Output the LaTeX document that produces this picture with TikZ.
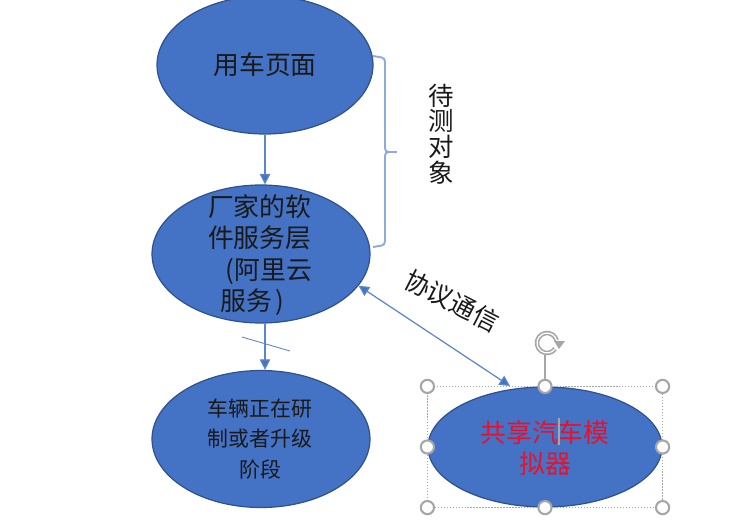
\documentclass[tikz,border=0pt]{standalone}
\usepackage{fontspec}
\setmainfont{Noto Sans CJK SC}
\usetikzlibrary{arrows.meta, shapes.geometric}
\definecolor{fillblue}{HTML}{4472C4}
\definecolor{edgeblue}{HTML}{2F528F}
\definecolor{lineblue}{HTML}{5B86C9}
\definecolor{bracelight}{HTML}{8FAADC}
\definecolor{handlegray}{HTML}{A6A6A6}
\definecolor{simred}{HTML}{E8112D}
\tikzset{
	layer/.style={draw=edgeblue, fill=fillblue, ellipse, inner sep=0pt, line width=0.7pt},
	layertext/.style={font=\fontsize{14.7}{17.9}\selectfont, text=black!90, inner sep=0pt},
	link/.style={draw=lineblue, line width=0.7pt, -{Triangle[length=6pt, width=6pt, fill=fillblue]}},
	handle/.style={draw=handlegray, fill=white, circle, line width=1.2pt, minimum size=7.5pt, inner sep=0pt},
	label/.style={font=\fontsize{14.5}{14.7}\selectfont, text=black!90, inner sep=0pt, align=center}
}

\begin{document}
\begin{tikzpicture}[x=0.02cm, y=-0.02cm]
		\clip (0,0) rectangle (750,524);
		\fill[white] (0,0) rectangle (750,524);
		
		\node[layer, minimum width=4.32cm, minimum height=2.76cm] (page) at (265,65) {};
		\node[layer, minimum width=4.36cm, minimum height=2.76cm] (cloud) at (261,254) {};
		\node[layer, minimum width=4.36cm, minimum height=2.74cm] (vehicle) at (261,439) {};
		\node[layer, minimum width=4.68cm, minimum height=2.40cm] (sim) at (545,447) {};
		
		\node[layertext] (pagetext) at (265,65) {用车页面};
		\node[layertext, align=left] (cloudtext) at (260,255) {厂家的软\\件服务层\\\hspace{10pt}(阿里云\\\hspace{7pt}服务\hspace{2pt})};
		\node[layertext, align=center, font=\fontsize{11.9}{17.6}\selectfont] (vehicletext) at (260,439) {车辆正在研\\制或者升级\\阶段};
		\node[layertext, align=center, text=simred] (simtext) at (545,448) {共享汽车模\\拟器};
		
		% selection frame
		\coordinate (nw) at (sim.north -| sim.west);
		\coordinate (ne) at (sim.north -| sim.east);
		\coordinate (sw) at (sim.south -| sim.west);
		\coordinate (se) at (sim.south -| sim.east);
		\draw[handlegray, densely dotted, line width=0.7pt] (nw) rectangle (se);
		\draw[handlegray, line width=1pt] (sim.north) -- (545,355);
		\draw[handlegray, line width=0.7pt] (559,418) -- (559,445);
		\node[handle] (h1) at (nw) {};
		\node[handle] (h2) at (sim.north) {};
		\node[handle] (h3) at (ne) {};
		\node[handle] (h4) at (sim.west) {};
		\node[handle] (h5) at (sim.east) {};
		\node[handle] (h6) at (sw) {};
		\node[handle] (h7) at (sim.south) {};
		\node[handle] (h8) at (se) {};
		
		% rotate mark
		\draw[handlegray, line width=2.6pt] (547,343) ++(35:10) arc (35:345:10);
		\draw[white, line width=0.7pt] (547,343) ++(35:10) arc (35:345:10);
		\fill[handlegray] (554,341) -- (565,341) -- (559,349) -- cycle;
		
		% connectors
		\coordinate (simtop) at (510,386);
		\coordinate (cut1) at (242,337);
		\coordinate (cut2) at (290,351);
		\draw[link] (page.south) -- (cloud.north -| page.south);
		\draw[link] (cloud.south -| page.south) -- (vehicle.north -| page.south);
		\draw[link, {Triangle[length=6pt, width=6pt, fill=fillblue]}-{Triangle[length=6pt, width=6pt, fill=fillblue]}] (cloud.-18) -- (simtop);
		\draw[lineblue, line width=0.5pt] (cut1) -- (cut2);
		
		% brace
		\coordinate (btop) at (373,56);
		\coordinate (btip) at (399,152);
		\coordinate (bbot) at (373,247);
		\draw[bracelight, line width=1.1pt, rounded corners=2pt] (btop) -- (385,58) -- (385,152) -- (btip) -- (385,152) -- (385,245) -- (bbot);
		
		\node[label] (target) at (441,134) {待\\测\\对\\象};
		\node[label, rotate=-27] (proto) at (452,301) {协议通信};
		
		\end{tikzpicture}
\end{document}
